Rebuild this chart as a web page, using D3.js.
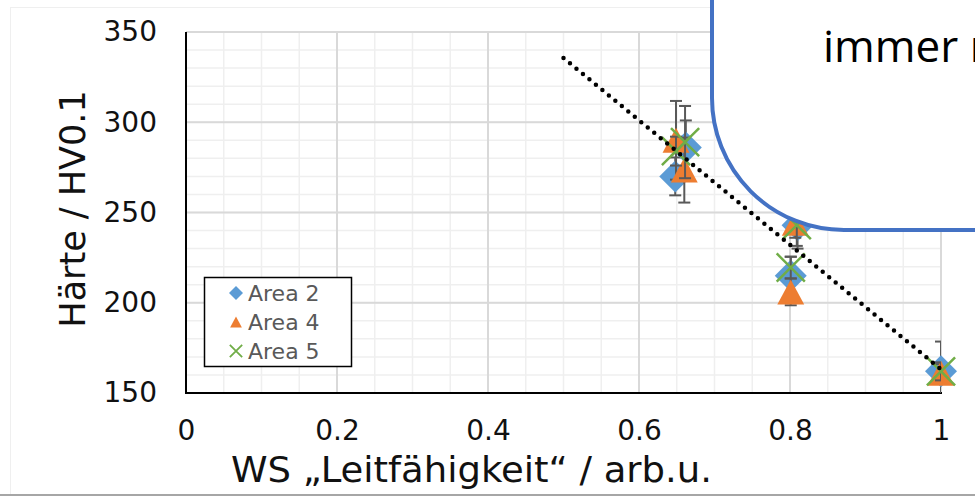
<!DOCTYPE html>
<html>
<head>
<meta charset="utf-8">
<script src="https://cdn.jsdelivr.net/npm/d3@7"></script>
<style>
  html, body { margin: 0; padding: 0; background: #fff; }
  svg { display: block; }
</style>
</head>
<body>
<svg id="chart" width="975" height="496"></svg>
<script>
// Hardness vs. eddy-current conductivity signal, three measurement areas
const xTicks = [0, 0.2, 0.4, 0.6, 0.8, 1];
const yTicks = [150, 200, 250, 300, 350];
const seriesNames = ["Area 2", "Area 4", "Area 5"];

const area2X   = [0.648, 0.662, 0.801, 0.810, 1.0];
const area2Y   = [270, 286, 215, 243, 162];
const area2Err = [10.5, 15, 10.5, 13, 16.5];

const area4X   = [0.649, 0.660, 0.801, 0.807, 1.0];
const area4Y   = [290, 273.5, 206, 244, 161];
const area4Err = [21.8, 18, 7.4, 8, 5];

const area5X   = [0.649, 0.661, 0.801, 0.809, 1.0];
const area5Y   = [284, 289, 219.5, 243, 162];
const area5Err = [8, 20, 6, 11.5, 5];

// linear trend (HV = slope * WS + intercept), drawn over WS 0.5 … 1
const trendSlope = -345;
const trendIntercept = 508.1;
const trendRange = [0.5, 1.0];

const calloutText = "immer niedriger";

const W = 975, H = 496;
const svg = d3.select("#chart");
const plot = { left: 186, right: 941, top: 32, bottom: 393 };

const x = d3.scaleLinear().domain([0, 1]).range([plot.left, plot.right]);
const y = d3.scaleLinear().domain([150, 350]).range([plot.bottom, plot.top]);

// frame of the chart area
svg.append("line").attr("x1", 10).attr("x2", W).attr("y1", 7.5).attr("y2", 7.5)
  .attr("stroke", "#efefef").attr("stroke-width", 1);
svg.append("line").attr("x1", 10.5).attr("x2", 10.5).attr("y1", 7).attr("y2", H)
  .attr("stroke", "#efefef").attr("stroke-width", 1);
svg.append("line").attr("x1", 0).attr("x2", W).attr("y1", 495).attr("y2", 495)
  .attr("stroke", "#a6a6a6").attr("stroke-width", 2);

svg.append("defs").append("clipPath").attr("id", "plotClip")
  .append("rect").attr("x", plot.left).attr("y", plot.top)
  .attr("width", plot.right - plot.left).attr("height", plot.bottom - plot.top);

// gridlines: minor then major
const grid = svg.append("g");
const xMinor = d3.range(0, 1.0001, 0.05);
const yMinor = d3.range(150, 350.001, 10);
grid.selectAll(".vmin").data(xMinor).join("line")
  .attr("x1", d => x(d)).attr("x2", d => x(d))
  .attr("y1", plot.top).attr("y2", plot.bottom)
  .attr("stroke", "#efefef").attr("stroke-width", 1.5);
grid.selectAll(".hmin").data(yMinor).join("line")
  .attr("x1", plot.left).attr("x2", plot.right)
  .attr("y1", d => y(d)).attr("y2", d => y(d))
  .attr("stroke", "#efefef").attr("stroke-width", 1.5);
grid.selectAll(".vmaj").data(xTicks).join("line")
  .attr("x1", d => x(d)).attr("x2", d => x(d))
  .attr("y1", plot.top).attr("y2", plot.bottom)
  .attr("stroke", "#d9d9d9").attr("stroke-width", 2);
grid.selectAll(".hmaj").data(yTicks).join("line")
  .attr("x1", plot.left).attr("x2", plot.right)
  .attr("y1", d => y(d)).attr("y2", d => y(d))
  .attr("stroke", "#d9d9d9").attr("stroke-width", 2);

// axes
const fmt = d => String(+d.toFixed(1));
const gx = svg.append("g").attr("transform", `translate(0,${plot.bottom})`)
  .call(d3.axisBottom(x).tickValues(xTicks).tickFormat(fmt).tickSize(0).tickPadding(27));
const gy = svg.append("g").attr("transform", `translate(${plot.left},0)`)
  .call(d3.axisLeft(y).tickValues(yTicks).tickSize(0).tickPadding(29));
[gx, gy].forEach(g => {
  g.select(".domain").remove();
  g.selectAll("text").attr("font-family", "DejaVu Sans").attr("font-size", 28).attr("fill", "#111");
});

svg.append("line").attr("x1", plot.left).attr("x2", plot.left)
  .attr("y1", plot.top).attr("y2", plot.bottom + 1)
  .attr("stroke", "#000").attr("stroke-width", 2);
svg.append("line").attr("x1", plot.left - 1).attr("x2", plot.right + 1)
  .attr("y1", plot.bottom).attr("y2", plot.bottom)
  .attr("stroke", "#000").attr("stroke-width", 2);

// axis titles
svg.append("text").attr("x", 231).attr("y", 482)
  .attr("font-family", "DejaVu Sans").attr("font-size", 35).attr("fill", "#111")
  .attr("textLength", 481).attr("lengthAdjust", "spacingAndGlyphs")
  .text("WS „Leitfähigkeit“ / arb.u.");
svg.append("text").attr("transform", "translate(85,209) rotate(-90)")
  .attr("text-anchor", "middle")
  .attr("font-family", "DejaVu Sans").attr("font-size", 35).attr("fill", "#111")
  .text("Härte / HV0.1");

// marker shapes
const colors = ["#5B9BD5", "#ED7D31", "#70AD47"];
function drawMarker(g, kind, cx, cy, s) {
  if (kind === 0) {
    g.append("path").attr("d", `M${cx},${cy - s}L${cx + s},${cy}L${cx},${cy + s}L${cx - s},${cy}Z`)
      .attr("fill", colors[0]);
  } else if (kind === 1) {
    const hw = s * 0.84, hh = s * 0.78;
    g.append("path").attr("d", `M${cx},${cy - hh}L${cx + hw},${cy + hh}L${cx - hw},${cy + hh}Z`)
      .attr("fill", colors[1]);
  } else {
    const a = s * 0.88;
    g.append("path").attr("d", `M${cx - a},${cy - a}L${cx + a},${cy + a}M${cx + a},${cy - a}L${cx - a},${cy + a}`)
      .attr("stroke", colors[2]).attr("stroke-width", s > 10 ? 2.5 : 1.8).attr("fill", "none");
  }
}

const series = [
  { xs: area2X, ys: area2Y, err: area2Err },
  { xs: area4X, ys: area4Y, err: area4Err },
  { xs: area5X, ys: area5Y, err: area5Err }
];

const dataLayer = svg.append("g");
series.forEach((s, k) => {
  const pts = s.xs.map((v, i) => ({ x: v, y: s.ys[i], e: s.err[i] }));
  const eb = dataLayer.append("g").attr("clip-path", "url(#plotClip)")
    .attr("stroke", "#595959").attr("stroke-width", 2);
  pts.forEach(p => {
    const px = x(p.x), top = y(p.y + p.e), bot = y(p.y - p.e);
    eb.append("line").attr("x1", px).attr("x2", px).attr("y1", top).attr("y2", bot);
    eb.append("line").attr("x1", px - 6).attr("x2", px + 6).attr("y1", top).attr("y2", top);
    eb.append("line").attr("x1", px - 6).attr("x2", px + 6).attr("y1", bot).attr("y2", bot);
  });
  const mk = dataLayer.append("g");
  pts.forEach(p => drawMarker(mk, k, x(p.x), y(p.y), 16));
});

// trendline
svg.append("line")
  .attr("x1", x(trendRange[0])).attr("y1", y(trendSlope * trendRange[0] + trendIntercept))
  .attr("x2", x(trendRange[1])).attr("y2", y(trendSlope * trendRange[1] + trendIntercept))
  .attr("stroke", "#000").attr("stroke-width", 4.5)
  .attr("stroke-linecap", "round").attr("stroke-dasharray", "0 8.4");

// legend
const lg = svg.append("g");
lg.append("rect").attr("x", 204.5).attr("y", 277.5).attr("width", 147).attr("height", 89)
  .attr("fill", "#fff").attr("stroke", "#000").attr("stroke-width", 1.5);
seriesNames.forEach((name, i) => {
  const cy = 293 + i * 29;
  drawMarker(lg, i, 236, cy, 7);
  lg.append("text").attr("x", 248).attr("y", cy).attr("dy", "0.36em")
    .attr("font-family", "DejaVu Sans").attr("font-size", 22).attr("fill", "#595959")
    .text(name);
});

// callout box
const cb = svg.append("g");
cb.append("rect").attr("x", 712).attr("y", -300).attr("width", 600).attr("height", 530)
  .attr("rx", 132).attr("ry", 132)
  .attr("fill", "#fff").attr("stroke", "#4472C4").attr("stroke-width", 4);
cb.append("text").attr("x", 823).attr("y", 62)
  .attr("font-family", "Open Sans").attr("font-size", 44).attr("fill", "#000")
  .text(calloutText);
</script>
</body>
</html>
